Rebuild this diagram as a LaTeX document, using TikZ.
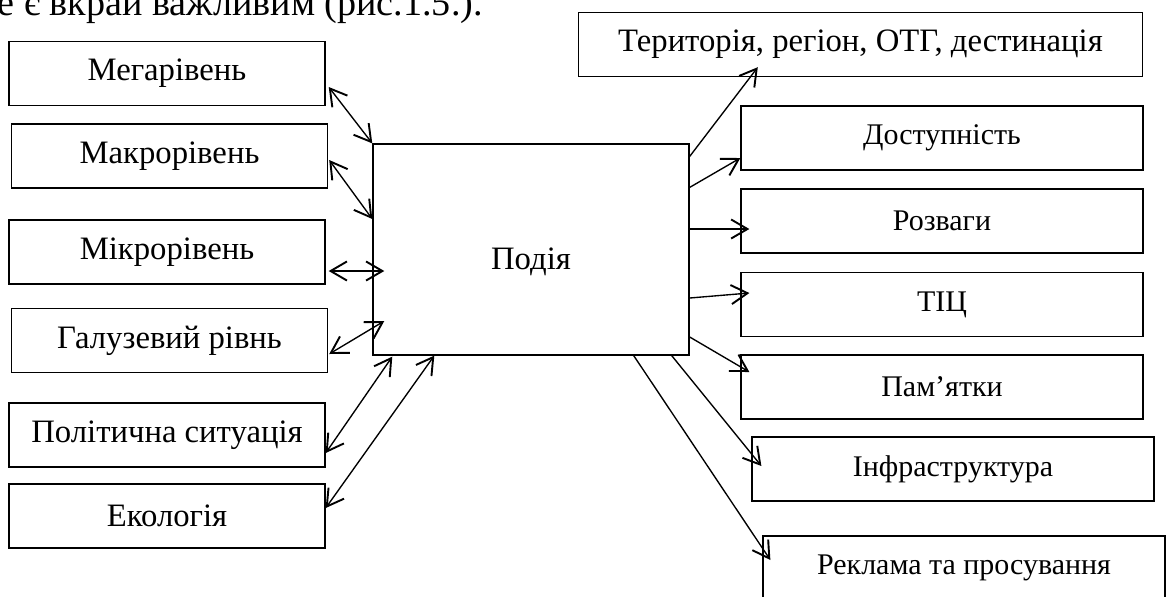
\documentclass[tikz,border=0pt]{standalone}
\usepackage{fontspec}
\setmainfont{Liberation Serif}
\usetikzlibrary{arrows.meta,calc}

\begin{document}
\begin{tikzpicture}[x=0.367pt,y=-0.367pt,
		>={Straight Barb[length=6pt,width=7pt,line width=0.7pt]},
		box/.style={draw,line width=0.5pt,inner sep=0pt,minimum width=116pt,minimum height=23.5pt,font=\fontsize{12}{14}\selectfont},
		rbox/.style={box,minimum width=147.5pt,font=\fontsize{11}{13}\selectfont},
		link/.style={->,line width=0.5pt},
		dlink/.style={<->,line width=0.5pt}]
			\useasboundingbox (0,0) rectangle (1166,596);
			
			\node[anchor=base west,inner sep=0pt,font=\fontsize{14}{16}\selectfont] (txt) at (-3,15) {е є вкрай важливим (рис.1.5.).};
			
			\node[box] (m1) at (167,73.5){Мегарівень};
			\node[box] (m2) at (169.5,156){Макрорівень};
			\node[box] (m3) at (167,252){Мікрорівень};
			\node[box] (m4) at (169.5,340.5){Галузевий рівнь};
			\node[box] (m5) at (167,435){Політична ситуація};
			\node[box] (m6) at (167,516){Екологія};
			
			\node[box,minimum height=77.4pt] (c) at (531,249.5){\raisebox{-7.5pt}[0pt][0pt]{Подія}};
			
			\node[box,minimum width=207pt] (r1) at (860.5,44.5){Територія, регіон, ОТГ, дестинація};
			\node[rbox] (r2) at (942,138){Доступність};
			\node[rbox] (r3) at (942,221){Розваги};
			\node[rbox] (r4) at (942,304.5){ТІЦ};
			\node[rbox] (r5) at (942,387){Пам’ятки};
			\node[rbox] (r6) at (953,469){Інфраструктура};
			\node[rbox] (r7) at (964,568){Реклама та просування};
			
			% left side, both ways
			\draw[dlink] ($(m1.east)+(3,13.5)$) -- (c.north west);
			\draw[dlink] ($(m2.east)+(1,4)$) -- ($(c.west)+(0,-30.5)$);
			\draw[dlink] ($(m3.east)+(3,19)$) -- ($(c.west)+(12,21.5)$);
			\draw[dlink] ($(m4.east)+(1,13.5)$) -- ($(c.west)+(12,71.5)$);
			\draw[dlink] ($(m5.east)+(0,18)$) -- ($(c.south west)+(20,1)$);
			\draw[dlink] ($(m6.east)+(0,-8)$) -- ($(c.south west)+(62,0)$);
			
			% right side
			\draw[link] ($(c.north east)+(0,13)$) -- ($(r1.south west)+(180,-10)$);
			\draw[link] ($(c.north east)+(0,44)$) -- ($(r2.west)+(0,20)$);
			\draw[link] ($(c.east)+(0,-20.5)$) -- ($(r3.west)+(9,8)$);
			\draw[link] ($(c.east)+(0,48.5)$) -- ($(r4.west)+(9,-11.5)$);
			\draw[link] ($(c.east)+(0,87.5)$) -- ($(r5.west)+(9,-15)$);
			\draw[link] ($(c.south east)+(-18,0)$) -- ($(r6.west)+(10,-3)$);
			\draw[link] ($(c.south east)+(-56,0)$) -- ($(r7.west)+(8,-8)$);
		\end{tikzpicture}
\end{document}
